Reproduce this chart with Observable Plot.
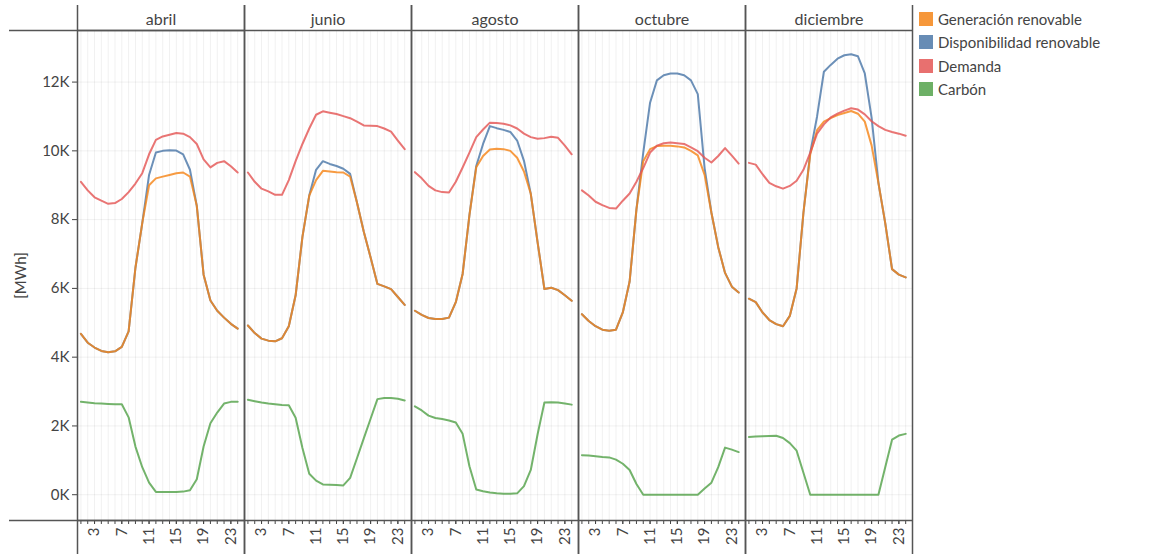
<!DOCTYPE html>
<html><head><meta charset="utf-8">
<script src="https://cdn.jsdelivr.net/npm/d3@7"></script>
<script src="https://cdn.jsdelivr.net/npm/@observablehq/plot@0.6"></script>
<style>
body{margin:0;background:#fff;font-family:Lato,sans-serif;}
#wrap{position:relative;width:1151px;height:554px;}
#legend{position:absolute;left:919px;top:7px;font-size:15px;color:#444;}
.item{display:flex;align-items:center;height:23.5px;}
.sw{width:14px;height:14px;margin-right:5px;opacity:0.85;}
</style></head><body><div id="wrap"><div id="chart"></div><div id="legend"></div></div>
<script>
const months = ["abril", "junio", "agosto", "octubre", "diciembre"];
const hours = d3.range(1, 25);
const hourLabels = [3, 7, 11, 15, 19, 23];
const yTicks = [0, 2000, 4000, 6000, 8000, 10000, 12000];
const seriesNames = ["Generación renovable", "Disponibilidad renovable", "Demanda", "Carbón"];
const seriesColors = ["#f58518", "#4c78a8", "#e45756", "#54a24b"];

// abril
const genAbril  = [4680, 4420, 4280, 4180, 4140, 4170, 4300, 4750, 6600, 7900, 9000, 9200, 9250, 9300, 9350, 9370, 9250, 8400, 6400, 5650, 5350, 5150, 4970, 4830];
const dispAbril = [4680, 4420, 4280, 4180, 4140, 4170, 4300, 4750, 6600, 7900, 9300, 9950, 10000, 10020, 10010, 9900, 9450, 8400, 6400, 5650, 5350, 5150, 4970, 4830];
const demAbril  = [9100, 8850, 8650, 8550, 8460, 8480, 8600, 8800, 9050, 9350, 9900, 10320, 10420, 10470, 10520, 10500, 10400, 10200, 9750, 9520, 9650, 9700, 9550, 9370];
const carAbril  = [2700, 2680, 2660, 2650, 2640, 2630, 2630, 2250, 1400, 800, 350, 80, 80, 80, 80, 90, 130, 450, 1400, 2080, 2390, 2650, 2700, 2700];
// junio
const genJunio  = [4920, 4700, 4540, 4480, 4460, 4550, 4900, 5800, 7500, 8700, 9150, 9420, 9400, 9380, 9370, 9250, 8500, 7650, 6900, 6130, 6060, 5980, 5750, 5520];
const dispJunio = [4920, 4700, 4540, 4480, 4460, 4550, 4900, 5800, 7500, 8700, 9450, 9700, 9620, 9560, 9480, 9330, 8500, 7650, 6900, 6130, 6060, 5980, 5750, 5520];
const demJunio  = [9370, 9100, 8900, 8820, 8720, 8720, 9150, 9700, 10200, 10650, 11050, 11150, 11110, 11070, 11010, 10950, 10850, 10740, 10730, 10720, 10650, 10560, 10300, 10050];
const carJunio  = [2760, 2720, 2680, 2650, 2630, 2610, 2600, 2240, 1360, 610, 410, 300, 290, 280, 270, 490, 1060, 1640, 2210, 2780, 2810, 2810, 2790, 2740];
// agosto
const genAgosto  = [5350, 5230, 5140, 5110, 5110, 5150, 5600, 6420, 8130, 9520, 9850, 10040, 10060, 10050, 10000, 9800, 9400, 8750, 7340, 5980, 6020, 5950, 5800, 5640];
const dispAgosto = [5350, 5230, 5140, 5110, 5110, 5150, 5600, 6420, 8130, 9560, 10200, 10720, 10660, 10610, 10550, 10300, 9710, 8750, 7340, 5980, 6020, 5950, 5800, 5640];
const demAgosto  = [9380, 9200, 8980, 8850, 8800, 8790, 9100, 9515, 9950, 10400, 10620, 10820, 10810, 10790, 10740, 10650, 10500, 10400, 10350, 10370, 10410, 10380, 10150, 9900];
const carAgosto  = [2570, 2450, 2300, 2230, 2200, 2160, 2100, 1770, 830, 150, 100, 65, 45, 30, 25, 40, 250, 720, 1760, 2680, 2690, 2680, 2650, 2620];
// octubre
const genOctubre  = [5250, 5050, 4900, 4800, 4770, 4800, 5300, 6200, 8300, 9700, 10050, 10140, 10150, 10150, 10130, 10100, 10000, 9870, 9300, 8200, 7200, 6450, 6050, 5880];
const dispOctubre = [5250, 5050, 4900, 4800, 4770, 4800, 5300, 6200, 8300, 9950, 11400, 12050, 12200, 12250, 12250, 12200, 12050, 11650, 9500, 8200, 7200, 6450, 6050, 5880];
const demOctubre  = [8850, 8700, 8520, 8420, 8340, 8320, 8550, 8760, 9100, 9500, 9950, 10150, 10220, 10240, 10220, 10200, 10100, 9990, 9800, 9660, 9850, 10080, 9860, 9630];
const carOctubre  = [1150, 1140, 1120, 1100, 1085, 1020, 900, 720, 310, 0, 0, 0, 0, 0, 0, 0, 0, 0, 180, 350, 800, 1370, 1310, 1240];
// diciembre
const genDiciembre  = [5700, 5600, 5300, 5080, 4960, 4900, 5200, 6000, 8200, 9900, 10600, 10850, 10950, 11040, 11100, 11160, 11080, 10850, 10160, 9070, 7900, 6560, 6400, 6320];
const dispDiciembre = [5700, 5600, 5300, 5080, 4960, 4900, 5200, 6000, 8200, 9950, 11000, 12300, 12500, 12680, 12780, 12810, 12750, 12250, 10968, 9070, 7900, 6560, 6400, 6320];
const demDiciembre  = [9650, 9600, 9320, 9070, 8970, 8900, 8980, 9130, 9450, 9950, 10500, 10770, 10970, 11080, 11170, 11240, 11200, 11060, 10860, 10720, 10610, 10550, 10500, 10440];
const carDiciembre  = [1680, 1690, 1700, 1710, 1715, 1650, 1500, 1280, 640, 0, 0, 0, 0, 0, 0, 0, 0, 0, 0, 0, 800, 1600, 1720, 1770];

const byMonth = {
  abril: [genAbril, dispAbril, demAbril, carAbril],
  junio: [genJunio, dispJunio, demJunio, carJunio],
  agosto: [genAgosto, dispAgosto, demAgosto, carAgosto],
  octubre: [genOctubre, dispOctubre, demOctubre, carOctubre],
  diciembre: [genDiciembre, dispDiciembre, demDiciembre, carDiciembre]
};
// drawing order: disponibilidad beneath generación
const drawOrder = [1, 0, 2, 3];
const rows = [];
for (const s of drawOrder) {
  for (const m of months) {
    byMonth[m][s].forEach((v, i) => rows.push({month: m, hour: hours[i], series: seriesNames[s], value: v}));
  }
}

const chart = Plot.plot({
  width: 915, height: 554,
  marginLeft: 76, marginRight: 2, marginTop: 30, marginBottom: 34,
  style: {fontFamily: "Lato, sans-serif", fontSize: "15px", color: "#444", background: "white", overflow: "visible"},
  fx: {domain: months, padding: 0, label: null, axis: null},
  x: {domain: [0.5, 25]},
  y: {domain: [-750, 13500]},
  color: {domain: seriesNames, range: seriesColors},
  marks: [
    Plot.gridX(hours, {stroke: "#000", strokeOpacity: 0.06}),
    Plot.gridY(yTicks, {stroke: "#000", strokeOpacity: 0.06}),
    Plot.axisFx({anchor: "top", tickSize: 0, tickPadding: 6, label: null, fontSize: 16}),
    Plot.axisY(yTicks, {tickFormat: d => d / 1000 + "K", tickSize: 5, tickPadding: 3, label: "[MWh]", labelAnchor: "center", labelArrow: "none", labelOffset: 62, fontSize: 15}),
    Plot.axisX(hours, {tickFormat: () => "", tickSize: 4, label: null}),
    Plot.axisX(hourLabels, {tickRotate: -90, tickSize: 4, tickPadding: 3, label: null, fontSize: 15}),
    Plot.line(rows, {fx: "month", x: "hour", y: "value", z: "series", stroke: "series", strokeWidth: 2, strokeOpacity: 0.82}),
    Plot.ruleX([0.5, 25], {stroke: "#555", strokeWidth: 1.5, insetTop: -25, insetBottom: -34}),
    Plot.ruleY([13500, -750], {stroke: "#555", strokeWidth: 1.5}),
    Plot.ruleY([{m: "abril", y: 13500}, {m: "abril", y: -750}], {fx: "m", y: "y", stroke: "#555", strokeWidth: 1.5, insetLeft: -68})
  ]
});
document.getElementById("chart").appendChild(chart);

const legend = document.getElementById("legend");
seriesNames.forEach((name, i) => {
  const item = document.createElement("div");
  item.className = "item";
  const sw = document.createElement("div");
  sw.className = "sw";
  sw.style.background = seriesColors[i];
  const label = document.createElement("span");
  label.textContent = name;
  item.appendChild(sw);
  item.appendChild(label);
  legend.appendChild(item);
});
</script>
</body></html>
